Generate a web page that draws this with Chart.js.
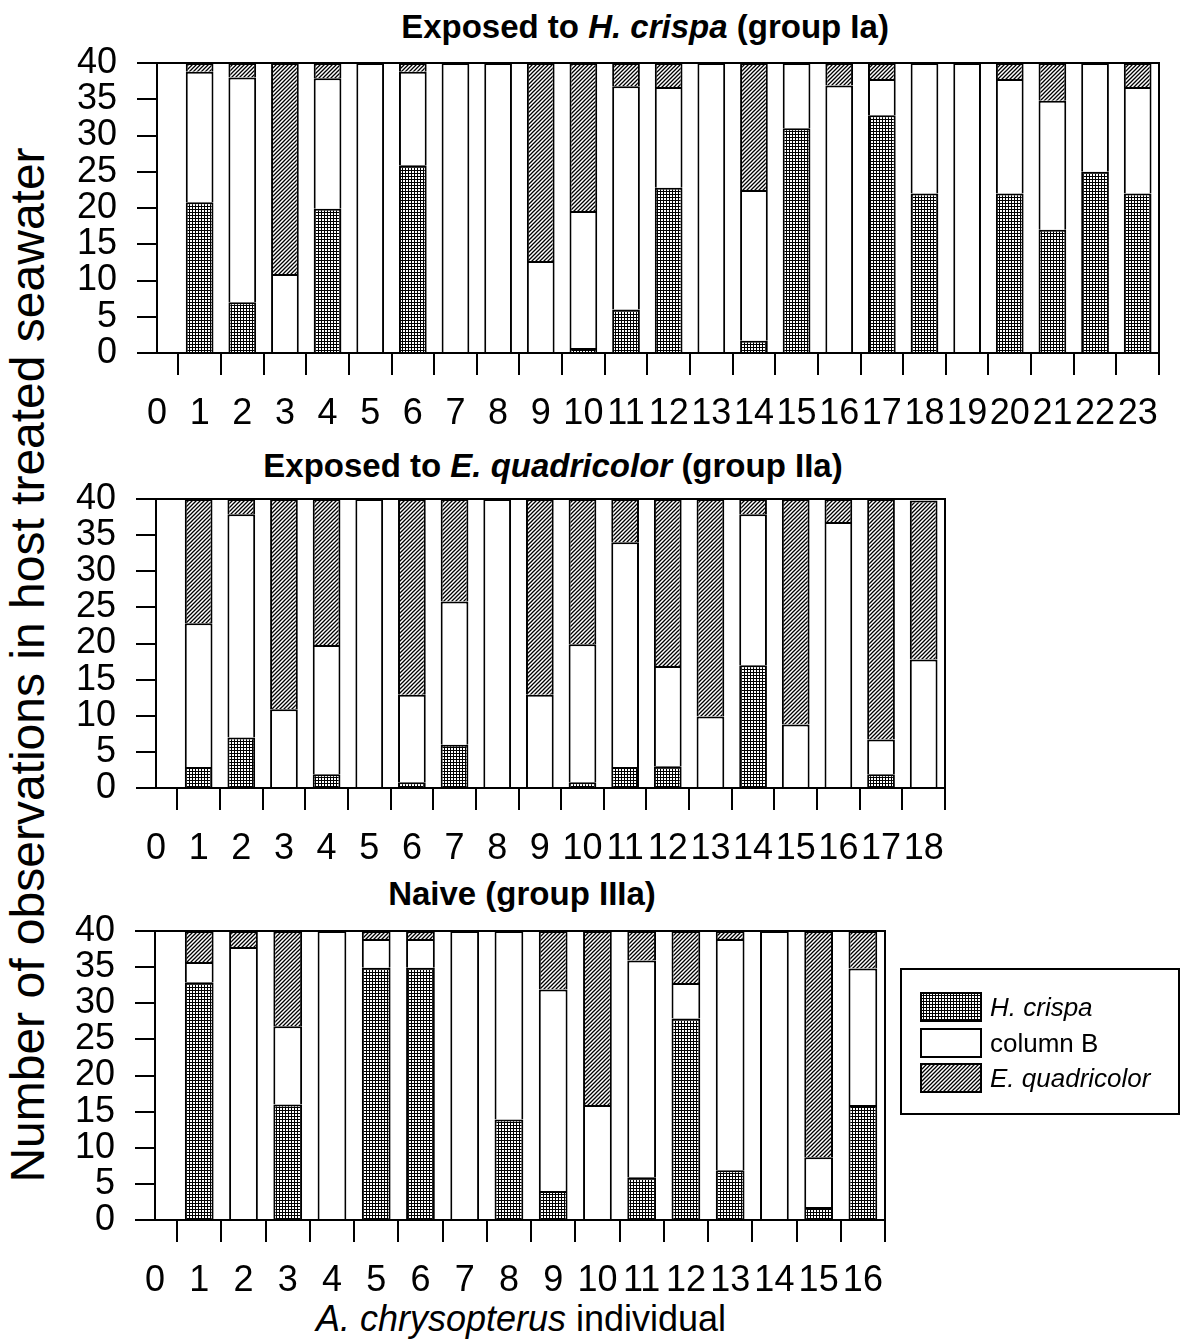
<!DOCTYPE html>
<html>
<head>
<meta charset="utf-8">
<script src="https://cdn.jsdelivr.net/npm/chart.js@4.4.1/dist/chart.umd.min.js"></script>
<style>
html,body{margin:0;padding:0;background:#fff;}
body{width:1188px;height:1342px;position:relative;overflow:hidden;font-family:"Liberation Sans",Arial,sans-serif;color:#000;}
canvas.chart{position:absolute;left:0;}
.title{position:absolute;font-weight:bold;font-size:33px;line-height:33px;white-space:nowrap;transform:translateX(-50%);}
.xtitle{position:absolute;font-size:36px;line-height:36px;white-space:nowrap;transform:translateX(-50%);}
.ytitle{position:absolute;font-size:48px;line-height:48px;white-space:nowrap;transform:translate(-50%,-50%) rotate(-90deg);}
.legend{position:absolute;left:900px;top:968px;width:280px;height:147px;box-sizing:border-box;border:2px solid #000;background:#fff;}
.legend .row{position:absolute;left:18px;height:30px;display:flex;align-items:center;}
.legend .row canvas{display:block;}
.legend .row span{margin-left:8px;font-size:26px;line-height:30px;white-space:nowrap;}
</style>
</head>
<body>
<div class="title" style="left:645px;top:10px;">Exposed to <i>H. crispa</i> (group Ia)</div>
<div class="title" style="left:553px;top:449px;">Exposed to <i>E. quadricolor</i> (group IIa)</div>
<div class="title" style="left:522px;top:877px;">Naive (group IIIa)</div>
<div class="ytitle" style="left:28px;top:665px;">Number of observations in host treated seawater</div>
<div class="xtitle" style="left:521px;top:1301px;"><i>A. chrysopterus</i> individual</div>
<canvas class="chart" id="c1"></canvas>
<canvas class="chart" id="c2"></canvas>
<canvas class="chart" id="c3"></canvas>
<div class="legend" id="legend">
  <div class="row" style="top:22px;"><canvas id="sw0" width="62" height="30"></canvas><span><i>H. crispa</i></span></div>
  <div class="row" style="top:58px;"><canvas id="sw1" width="62" height="30"></canvas><span>column B</span></div>
  <div class="row" style="top:93px;"><canvas id="sw2" width="62" height="30"></canvas><span><i>E. quadricolor</i></span></div>
</div>
<script>
// ---- data ----
const seriesNames = ['H. crispa', 'column B', 'E. quadricolor'];
const yTicks = [0, 5, 10, 15, 20, 25, 30, 35, 40];

// group Ia
const indivIa = [1,2,3,4,5,6,7,8,9,10,11,12,13,14,15,16,17,18,19,20,21,22,23];
const xTicksIa = [0,1,2,3,4,5,6,7,8,9,10,11,12,13,14,15,16,17,18,19,20,21,22,23];
const crispaIa  = [20.8, 7,   0,    19.9, 0,  25.9, 0,  0,  0,    0.7,  6,    22.8, 0,  1.7,  31, 0,    32.8, 22, 0,  22,   17,   25, 22];
const columnBIa = [18,   31,  10.9, 18,   40, 12.9, 40, 40, 12.7, 18.9, 30.8, 13.9, 40, 20.8, 9,  36.9, 5,    18, 40, 15.8, 17.8, 15, 14.7];
const quadIa    = [1.2,  2,   29.1, 2.1,  0,  1.2,  0,  0,  27.3, 20.4, 3.2,  3.3,  0,  17.5, 0,  3.1,  2.2,  0,  0,  2.2,  5.2,  0,  3.3];

// group IIa
const indivIIa = [1,2,3,4,5,6,7,8,9,10,11,12,13,14,15,16,17,18];
const xTicksIIa = [0,1,2,3,4,5,6,7,8,9,10,11,12,13,14,15,16,17,18];
const crispaIIa  = [2.9,  7,    0,    1.9,  0,  0.8,  6,    0,  0,    0.8,  2.9,  3,    0,    17,   0,    0,    1.9,  0];
const columnBIIa = [19.9, 30.9, 10.9, 17.9, 40, 12.1, 19.8, 40, 12.9, 19.1, 31.1, 13.9, 9.9,  20.9, 8.8,  36.8, 4.8,  17.8];
const quadIIa    = [17.2, 2.1,  29.1, 20.2, 0,  27.1, 14.2, 0,  27.1, 20.1, 6,    23.1, 30.1, 2.1,  31.2, 3.2,  33.3, 22];

// group IIIa
const indivIIIa = [1,2,3,4,5,6,7,8,9,10,11,12,13,14,15,16];
const xTicksIIIa = [0,1,2,3,4,5,6,7,8,9,10,11,12,13,14,15,16];
const crispaIIIa  = [32.9, 0,    16,   0,  34.9, 34.9, 0,  13.9, 4,    0,    5.9,  27.9, 6.9,  0,  1.8,  15.9];
const columnBIIIa = [2.8,  37.8, 10.8, 40, 4,    4,    40, 26.1, 27.9, 15.9, 30,   4.9,  32,   40, 6.9,  18.9];
const quadIIIa    = [4.3,  2.2,  13.2, 0,  1.1,  1.1,  0,  0,    8.1,  24.1, 4.1,  7.2,  1.1,  0,  31.3, 5.2];

// ---- drawing ----
const FONT = '"Liberation Sans", Arial, sans-serif';

function makeGridTile() {
  const c = document.createElement('canvas');
  c.width = 3; c.height = 3;
  const x = c.getContext('2d');
  x.fillStyle = '#fff'; x.fillRect(0, 0, 3, 3);
  x.fillStyle = '#000'; x.fillRect(0, 0, 3, 1); x.fillRect(0, 0, 1, 3);
  return c;
}
function makeHatchTile() {
  const c = document.createElement('canvas');
  c.width = 4; c.height = 4;
  const x = c.getContext('2d');
  x.fillStyle = '#fff'; x.fillRect(0, 0, 4, 4);
  x.strokeStyle = '#000'; x.lineWidth = 1.3;
  x.beginPath();
  x.moveTo(0, 4); x.lineTo(4, 0);
  x.moveTo(-1, 1); x.lineTo(1, -1);
  x.moveTo(3, 5); x.lineTo(5, 3);
  x.stroke();
  return c;
}
const gridTile = makeGridTile();
const hatchTile = makeHatchTile();

const framePlugin = {
  id: 'frame',
  afterDatasetsDraw(chart) {
    const {ctx, chartArea: a} = chart;
    ctx.save();
    ctx.strokeStyle = '#000';
    ctx.lineWidth = 2;
    ctx.strokeRect(a.left, a.top, a.right - a.left, a.bottom - a.top);
    ctx.restore();
  }
};

function makeChart(id, indiv, xTicks, crispa, colB, quad, g) {
  const cv = document.getElementById(id);
  const padTop = 46, axisH = 90;
  const top = g.top - padTop;
  cv.style.top = top + 'px';
  cv.width = 1188;
  cv.height = (g.bottom - top) + axisH;
  const ctx = cv.getContext('2d');
  const gridPat = ctx.createPattern(gridTile, 'repeat');
  const hatchPat = ctx.createPattern(hatchTile, 'repeat');
  const common = {
    stack: 's',
    borderColor: '#000',
    borderWidth: {top: 2, left: 2, right: 2, bottom: 0},
    borderSkipped: false,
    barPercentage: 0.65,
    categoryPercentage: 1.0
  };
  const nMax = xTicks[xTicks.length - 1] + 0.5;
  return new Chart(ctx, {
    type: 'bar',
    data: {
      labels: indiv,
      datasets: [
        Object.assign({label: seriesNames[0], data: crispa, backgroundColor: gridPat}, common),
        Object.assign({label: seriesNames[1], data: colB, backgroundColor: '#ffffff'}, common),
        Object.assign({label: seriesNames[2], data: quad, backgroundColor: hatchPat}, common)
      ]
    },
    options: {
      responsive: false,
      maintainAspectRatio: false,
      animation: false,
      devicePixelRatio: 1,
      layout: {padding: {top: padTop, right: 1188 - g.right, left: 0, bottom: 0}},
      plugins: {legend: {display: false}, tooltip: {enabled: false}, title: {display: false}},
      scales: {
        x: {
          type: 'linear',
          min: 0,
          max: nMax,
          offset: false,
          afterBuildTicks: (a) => { a.ticks = xTicks.map(v => ({value: v})); },
          afterFit: (a) => { a.height = axisH; },
          ticks: {autoSkip: false, maxRotation: 0, minRotation: 0, padding: 17, color: '#000',
                  font: {family: FONT, size: 36}, callback: (v) => String(v)},
          grid: {display: true, drawOnChartArea: false, drawTicks: true, tickLength: 22, color: '#000', lineWidth: 2},
          border: {display: true, color: '#000', width: 2}
        },
        y: {
          stacked: true,
          min: 0,
          max: 40,
          afterBuildTicks: (a) => { a.ticks = yTicks.map(v => ({value: v})); },
          afterFit: (a) => { a.width = g.left; },
          ticks: {autoSkip: false, padding: 20, color: '#000', font: {family: FONT, size: 36}},
          grid: {display: true, drawOnChartArea: false, drawTicks: true, tickLength: 20, color: '#000', lineWidth: 2},
          border: {display: true, color: '#000', width: 2}
        }
      }
    },
    plugins: [framePlugin]
  });
}

makeChart('c1', indivIa, xTicksIa, crispaIa, columnBIa, quadIa, {left: 157, right: 1159, top: 63, bottom: 353});
makeChart('c2', indivIIa, xTicksIIa, crispaIIa, columnBIIa, quadIIa, {left: 156, right: 945, top: 499, bottom: 788});
makeChart('c3', indivIIIa, xTicksIIIa, crispaIIIa, columnBIIIa, quadIIIa, {left: 155, right: 885, top: 931, bottom: 1220});

// legend swatches
[gridTile, null, hatchTile].forEach((tile, i) => {
  const c = document.getElementById('sw' + i);
  const x = c.getContext('2d');
  x.fillStyle = tile ? x.createPattern(tile, 'repeat') : '#fff';
  x.fillRect(0, 0, 62, 30);
  x.strokeStyle = '#000'; x.lineWidth = 2;
  x.strokeRect(1, 1, 60, 28);
});
</script>
</body>
</html>
